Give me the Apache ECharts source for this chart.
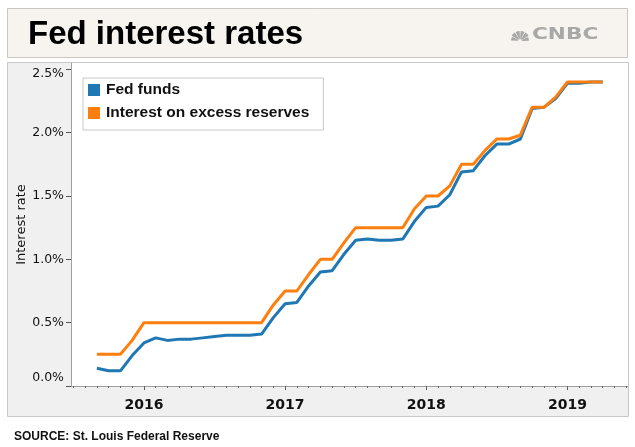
<!DOCTYPE html>
<html><head><meta charset="utf-8">
<script src="https://cdn.jsdelivr.net/npm/echarts@6/dist/echarts.min.js"></script>
<style>html,body{margin:0;padding:0;background:#fff}#c{width:635px;height:447px}</style>
</head><body><div id="c"></div>
<script>
// ---- data ----
const months = ['2015-09','2015-10','2015-11','2015-12',
  '2016-01','2016-02','2016-03','2016-04','2016-05','2016-06','2016-07','2016-08','2016-09','2016-10','2016-11','2016-12',
  '2017-01','2017-02','2017-03','2017-04','2017-05','2017-06','2017-07','2017-08','2017-09','2017-10','2017-11','2017-12',
  '2018-01','2018-02','2018-03','2018-04','2018-05','2018-06','2018-07','2018-08','2018-09','2018-10','2018-11','2018-12',
  '2019-01','2019-02','2019-03','2019-04'];
const fedFunds = [0.14,0.12,0.12,0.24,
  0.34,0.38,0.36,0.37,0.37,0.38,0.39,0.40,0.40,0.40,0.41,0.54,
  0.65,0.66,0.79,0.90,0.91,1.04,1.15,1.16,1.15,1.15,1.16,1.30,
  1.41,1.42,1.51,1.69,1.70,1.82,1.91,1.91,1.95,2.19,2.20,2.27,
  2.39,2.39,2.40,2.40];
const excessReserves = [0.25,0.25,0.25,0.36,
  0.50,0.50,0.50,0.50,0.50,0.50,0.50,0.50,0.50,0.50,0.50,0.64,
  0.75,0.75,0.88,1.00,1.00,1.13,1.25,1.25,1.25,1.25,1.25,1.40,
  1.50,1.50,1.58,1.75,1.75,1.86,1.95,1.95,1.98,2.20,2.20,2.28,
  2.40,2.40,2.40,2.40];
const seriesNames = ['Fed funds','Interest on excess reserves'];
const yearLabels = ['2016','2017','2018','2019'];
const yTickValues = [0,0.5,1.0,1.5,2.0,2.5];
const titleText = 'Fed interest rates';
const sourceText = 'SOURCE: St. Louis Federal Reserve';
const yAxisName = 'Interest rate';

// ---- helpers ----
const BASE_YEAR = 2016;
function monthIndex(s){ const p = s.split('-').map(Number); return (p[0]-BASE_YEAR)*12 + (p[1]-1); }
const X_MIN = -6.2, X_MAX = 41.15;
const yearTickVals = yearLabels.map(y => (Number(y)-BASE_YEAR)*12);
const monthTickVals = [];
for (let m = Math.ceil(X_MIN); m <= Math.floor(X_MAX); m++) monthTickVals.push(m);

const blue = '#1f77b4', orange = '#ff7f0e';
const chart = echarts.init(document.getElementById('c'), null, {renderer:'canvas'});

const option = {
  animation: false,
  backgroundColor: '#ffffff',
  grid: {left: 71, right: 7, top: 63, bottom: 61, containLabel: false},
  legend: {
    left: 83, top: 78, orient: 'vertical',
    backgroundColor: '#ffffff', borderColor: '#c8c8c8', borderWidth: 1,
    padding: [4, 14, 9, 5], itemGap: 7,
    icon: 'rect', itemWidth: 12, itemHeight: 12,
    itemStyle: {borderWidth: 0},
    textStyle: {fontFamily: '"Liberation Sans", Arial, sans-serif', fontWeight: 'bold', fontSize: 15.5, color: '#111', lineHeight: 16, padding: [0,0,0,1]},
    data: seriesNames
  },
  xAxis: [{
    type: 'value', min: X_MIN, max: X_MAX,
    axisLine: {show: true, onZero: false, lineStyle: {color: '#a0a0a0', width: 1}},
    axisTick: {show: true, customValues: yearTickVals, length: 4, lineStyle: {color: '#555'}},
    axisLabel: {customValues: yearTickVals, margin: 12,
      formatter: v => String(BASE_YEAR + Math.round(v/12)),
      fontFamily: '"DejaVu Sans", Verdana, sans-serif', fontWeight: 'bold', fontSize: 14, color: '#111'},
    splitLine: {show: false}
  },{
    type: 'value', min: X_MIN, max: X_MAX, position: 'bottom',
    axisLine: {show: false, onZero: false},
    axisTick: {show: true, customValues: monthTickVals, length: 2, lineStyle: {color: '#666'}},
    axisLabel: {show: false},
    splitLine: {show: false}
  }],
  yAxis: {
    type: 'value', min: 0, max: 2.55,
    name: yAxisName, nameLocation: 'middle', nameRotate: 90, nameGap: 43, nameMoveOverlap: false,
    nameTextStyle: {fontFamily: '"DejaVu Sans", Verdana, sans-serif', fontSize: 13, color: '#111'},
    axisLine: {show: true, onZero: false, lineStyle: {color: '#a0a0a0', width: 1}},
    axisTick: {show: true, customValues: yTickValues, length: 5, lineStyle: {color: '#555'}},
    axisLabel: {customValues: yTickValues, margin: 7,
      fontFamily: '"DejaVu Sans", Verdana, sans-serif', fontSize: 12.5, color: '#111',
      formatter: v => {
        const t = v.toFixed(1) + '%';
        if (v === 0) return '{lo|' + t + '}';
        if (v === 2.5) return '{hi|' + t + '}';
        return t;
      },
      rich: {
        lo: {fontFamily: '"DejaVu Sans", Verdana, sans-serif', fontSize: 12.5, color: '#111', padding: [0,0,16,0]},
        hi: {fontFamily: '"DejaVu Sans", Verdana, sans-serif', fontSize: 12.5, color: '#111', padding: [8,0,0,0]}
      }
    },
    splitLine: {show: false}
  },
  series: [
    {name: seriesNames[0], type: 'line', xAxisIndex: 0, symbol: 'none', color: blue,
     lineStyle: {width: 3, color: blue}, data: months.map((m,i) => [monthIndex(m), fedFunds[i]])},
    {name: seriesNames[1], type: 'line', xAxisIndex: 0, symbol: 'none', color: orange,
     lineStyle: {width: 3, color: orange}, data: months.map((m,i) => [monthIndex(m), excessReserves[i]])}
  ],
  graphic: {elements: [
    {type: 'rect', z: -10, shape: {x: 7.5, y: 8.5, width: 620, height: 49}, style: {fill: '#f7f3ef', stroke: '#c9c5c0', lineWidth: 1}},
    {type: 'rect', z: -10, shape: {x: 7.5, y: 62.5, width: 621, height: 354}, style: {fill: '#f0f0f0', stroke: '#c8c8c8', lineWidth: 1}},
    {type: 'rect', z: -9, shape: {x: 71, y: 63, width: 557, height: 323}, style: {fill: '#ffffff'}},
    {type: 'text', z: 5, x: 28, y: 35, style: {text: titleText, font: 'bold 33px "Liberation Sans", Arial, sans-serif', fill: '#000', verticalAlign: 'middle'}},
    {type: 'group', z: 5, x: 520, y: 41, children: [
      {type: 'sector', shape: {cx: 0, cy: 0, r0: 2, r: 9, startAngle: Math.PI*1.02, endAngle: Math.PI*1.16}, style: {fill: '#a8a8a8'}},
      {type: 'sector', shape: {cx: 0, cy: 0, r0: 2, r: 10, startAngle: Math.PI*1.19, endAngle: Math.PI*1.33}, style: {fill: '#a8a8a8'}},
      {type: 'sector', shape: {cx: 0, cy: 0, r0: 2, r: 10, startAngle: Math.PI*1.36, endAngle: Math.PI*1.49}, style: {fill: '#a8a8a8'}},
      {type: 'sector', shape: {cx: 0, cy: 0, r0: 2, r: 10, startAngle: Math.PI*1.52, endAngle: Math.PI*1.65}, style: {fill: '#a8a8a8'}},
      {type: 'sector', shape: {cx: 0, cy: 0, r0: 2, r: 10, startAngle: Math.PI*1.68, endAngle: Math.PI*1.82}, style: {fill: '#a8a8a8'}},
      {type: 'sector', shape: {cx: 0, cy: 0, r0: 2, r: 9, startAngle: Math.PI*1.85, endAngle: Math.PI*1.99}, style: {fill: '#a8a8a8'}}
    ]},
    {type: 'text', z: 5, x: 532, y: 35, scaleX: 1.35, style: {text: 'CNBC', font: 'bold 16px "DejaVu Sans", Verdana, sans-serif', fill: '#a8a8a8', verticalAlign: 'middle'}},
    {type: 'text', z: 5, x: 14, y: 437, style: {text: sourceText, font: 'bold 12px "Liberation Sans", Arial, sans-serif', fill: '#111', verticalAlign: 'middle'}}
  ]}
};
chart.setOption(option);
</script>
</body></html>
